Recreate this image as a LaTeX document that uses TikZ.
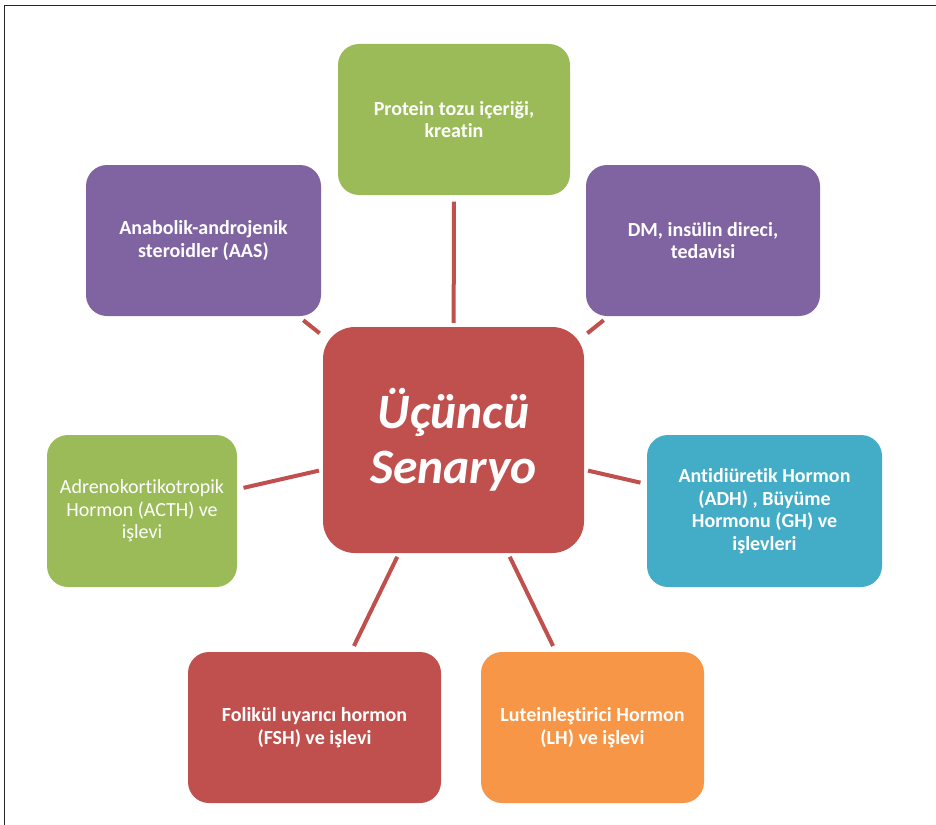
\documentclass[tikz,border=0pt]{standalone}
\usepackage{fontspec}
\setmainfont[Ligatures=NoCommon]{Carlito}
\definecolor{cgreen}{HTML}{9BBB59}
\definecolor{cpurple}{HTML}{8064A2}
\definecolor{cred}{HTML}{C0504D}
\definecolor{cblue}{HTML}{43ACC6}
\definecolor{corange}{HTML}{F79646}
\begin{document}
\begin{tikzpicture}[x=1pt,y=-1pt,
  child/.style={rounded corners=21pt, inner sep=0pt, text=white, align=center,
    font=\bfseries\fontsize{20}{22.5}\selectfont},
  hub/.style={rounded corners=32pt, inner sep=0pt, text=white, align=center, fill=cred,
    font=\bfseries\itshape\fontsize{49.5}{55}\selectfont},
  conn/.style={draw=cred, line width=4pt, shorten <=6.5pt, shorten >=4pt}]
\useasboundingbox (0,0) rectangle (936,824);
\clip (0,0) rectangle (936,824);
\fill[white] (0,0) rectangle (936,824);
\draw[black!85, line width=1.3pt] (4.5,5.5) rectangle (950,840);

\node[hub, minimum width=261pt, minimum height=226pt] (ctr) at (453.5,440) {Üçüncü\\Senaryo};

\node[child, fill=cgreen, minimum width=232pt, minimum height=151pt] (top) at (454,119.5) {Protein tozu içeriği,\\kreatin};
\node[child, fill=cpurple, minimum width=234pt, minimum height=151pt] (dm) at (703,240.5) {DM, insülin direci,\\tedavisi};
\node[child, fill=cpurple, minimum width=235pt, minimum height=151pt] (aas) at (203.5,240.5) {Anabolik-androjenik\\steroidler (AAS)};
\node[child, fill=cgreen, minimum width=190pt, minimum height=152pt, font=\fontsize{20}{22.5}\selectfont] (acth) at (142,511) {Adrenokortikotropik\\Hormon (ACTH) ve\\işlevi};
\node[child, fill=cblue, minimum width=235pt, minimum height=152pt] (adh) at (764.5,511) {Antidiüretik Hormon\\(ADH) , Büyüme\\Hormonu (GH) ve\\işlevleri};
\node[child, fill=cred, minimum width=253pt, minimum height=151pt] (fsh) at (314.5,727.5) {Folikül uyarıcı hormon\\(FSH) ve işlevi};
\node[child, fill=corange, minimum width=223pt, minimum height=151pt] (lh) at (592.5,727.5) {Luteinleştirici Hormon\\(LH) ve işlevi};

\foreach \n in {top,dm,aas,acth,adh,fsh,lh}
  \draw[conn] (\n) -- (ctr);
\end{tikzpicture}
\end{document}
